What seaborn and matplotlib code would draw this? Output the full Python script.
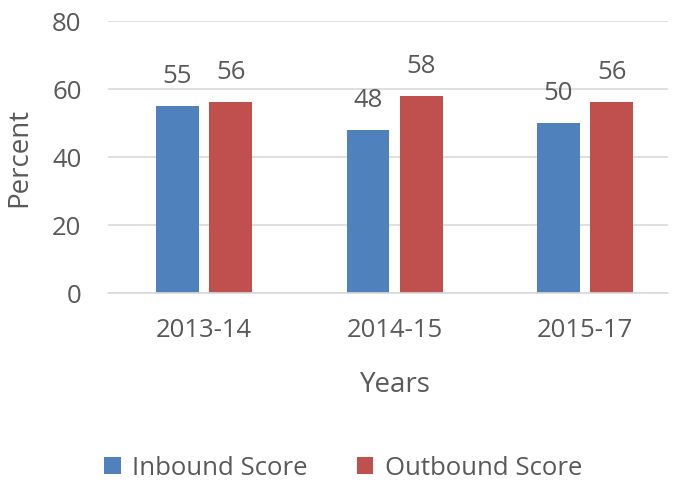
import matplotlib
matplotlib.use("Agg")
import matplotlib.pyplot as plt
import seaborn as sns
import pandas as pd

years = ["2013-14", "2014-15", "2015-17"]
inbound = [55, 48, 50]
outbound = [56, 58, 56]
series = ["Inbound Score", "Outbound Score"]
colors = ["#4F81BD", "#C0504D"]

df = pd.DataFrame({
    "Years": years * 2,
    "Percent": inbound + outbound,
    "Series": [series[0]] * 3 + [series[1]] * 3,
})

sns.set_theme(style="white")
plt.rcParams["font.family"] = ["Open Sans", "DejaVu Sans"]
txt = "#595959"

fig = plt.figure(figsize=(6.77, 4.85), dpi=100)
ax = fig.add_axes([108 / 677, 0.394, 560 / 677, 0.561])
sns.barplot(data=df, x="Years", y="Percent", hue="Series", palette=colors,
            saturation=1, width=0.56, gap=0.2, linewidth=0, ax=ax, legend=True)

ax.set_xlim(-0.504, -0.504 + 560 / 190.5)
ax.set_ylim(0, 80)
ax.set_yticks([0, 20, 40, 60, 80])
ax.yaxis.grid(True, color="#D9D9D9", linewidth=1.2)
ax.set_axisbelow(True)
for s in ["left", "right", "top"]:
    ax.spines[s].set_visible(False)
ax.spines["bottom"].set_color("#D9D9D9")
ax.spines["bottom"].set_linewidth(1.2)
ax.tick_params(axis="y", colors=txt, labelsize=18.5, length=0, pad=19)
ax.tick_params(axis="x", colors=txt, labelsize=18.5, length=0, pad=17)
ax.set_ylabel("Percent", fontsize=20, color=txt)
ax.set_xlabel("Years", fontsize=20, color=txt)
ax.yaxis.set_label_coords(-0.133, 0.5)
ax.xaxis.set_label_coords(0.5125, -0.283)

for c in ax.containers:
    ax.bar_label(c, fmt="%d", padding=13, fontsize=18.5, color=txt)

h, l = ax.get_legend_handles_labels()
ax.legend_.remove()
fig.legend(h, l, loc="center", bbox_to_anchor=(0.507, 0.033), ncol=2, frameon=False,
           fontsize=18.5, labelcolor=txt, handlelength=0.65, handleheight=0.65,
           columnspacing=1.9, handletextpad=0.45)

fig.savefig("out.png", dpi=100)
